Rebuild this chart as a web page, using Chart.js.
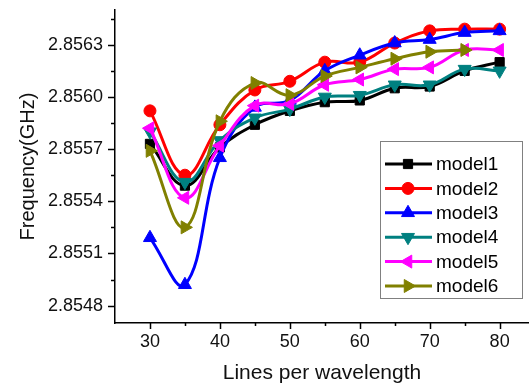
<!DOCTYPE html>
<html>
<head>
<meta charset="utf-8">
<script src="https://cdn.jsdelivr.net/npm/chart.js@4/dist/chart.umd.min.js"></script>
<style>
  body { margin: 0; background: #fff; }
  canvas { display: block; }
</style>
</head>
<body>
<canvas id="lineChart" width="529" height="384"></canvas>
<script>
// values
let linesPerWavelength = [30, 35, 40, 45, 50, 55, 60, 65, 70, 75, 80];

let model1 = [2.85573, 2.85549, 2.85571, 2.85584, 2.85592, 2.85597, 2.85598, 2.85605, 2.85606, 2.85615, 2.85620];
let model2 = [2.85592, 2.85555, 2.85584, 2.85604, 2.85609, 2.85620, 2.85620, 2.85631, 2.85638, 2.85639, 2.85639];
let model3 = [2.85519, 2.85492, 2.85565, 2.85594, 2.85598, 2.85615, 2.85624, 2.85631, 2.85633, 2.85637, 2.85638];
let model4 = [2.85580, 2.85551, 2.85575, 2.85588, 2.85593, 2.85600, 2.85601, 2.85607, 2.85607, 2.85616, 2.85615];
let model5 = [2.85582, 2.85542, 2.85572, 2.85595, 2.85596, 2.85607, 2.85610, 2.85616, 2.85617, 2.85627, 2.85627];
let model6 = [2.85569, 2.85525, 2.85586, 2.85608, 2.85601, 2.85612, 2.85617, 2.85622, 2.85626, 2.85627, null];

let xTickLabels = [30, 40, 50, 60, 70, 80];
let yTickLabels = ['2.8548', '2.8551', '2.8554', '2.8557', '2.8560', '2.8563'];

let fontFamily = "'Liberation Sans', Arial, sans-serif";
Chart.defaults.font.family = fontFamily;
Chart.defaults.color = '#111';

// major ticks from the labels, a minor tick half way between
let xMajor = xTickLabels.slice();
let xAll = [];
xMajor.forEach(v => { xAll.push(v); xAll.push(v + 5); });
let yMajor = yTickLabels.map(Number);
let yAll = [];
yMajor.forEach((v, i) => {
    yAll.push(v);
    let next = i < yMajor.length - 1 ? yMajor[i + 1] : v + (v - yMajor[i - 1]);
    yAll.push(Number(((v + next) / 2).toFixed(5)));
});

function isMajor(list, v) {
    return list.some(m => Math.abs(m - v) < 1e-7);
}

function makeSet(label, values, color, style, rotation, radius, order) {
    return {
        label: label,
        data: linesPerWavelength.map((x, i) => ({ x: x, y: values[i] })),
        borderColor: color,
        backgroundColor: color,
        pointBackgroundColor: color,
        pointBorderColor: color,
        pointStyle: style,
        pointRotation: rotation,
        pointRadius: radius,
        pointBorderWidth: 1,
        borderWidth: 3,
        tension: 0.4,
        fill: false,
        order: order
    };
}

// axis tick marks: long for labelled ticks, short in between
let tickMarks = {
    id: 'tickMarks',
    afterDraw(chart) {
        let ctx = chart.ctx;
        let area = chart.chartArea;
        let xs = chart.scales.x, ys = chart.scales.y;
        ctx.save();
        ctx.strokeStyle = '#000';
        ctx.lineWidth = 1.5;
        ctx.beginPath();
        yAll.forEach(v => {
            if (v > ys.max || v < ys.min) return;
            let py = Math.round(ys.getPixelForValue(v)) + 0.5;
            let len = isMajor(yMajor, v) ? 7 : 4;
            ctx.moveTo(area.left - len, py);
            ctx.lineTo(area.left, py);
        });
        xAll.forEach(v => {
            if (v > xs.max || v < xs.min) return;
            let px = Math.round(xs.getPixelForValue(v)) + 0.5;
            let len = isMajor(xMajor, v) ? 6 : 3;
            ctx.moveTo(px, area.bottom);
            ctx.lineTo(px, area.bottom + len);
        });
        ctx.stroke();
        ctx.restore();
    }
};

// boxed legend inside the plot, lower right
let boxLegend = {
    id: 'boxLegend',
    afterDraw(chart) {
        let ctx = chart.ctx;
        let left = 380, top = 141, w = 142, h = 157;
        ctx.save();
        ctx.strokeStyle = '#808080';
        ctx.lineWidth = 1;
        ctx.strokeRect(left + 0.5, top + 0.5, w, h);
        ctx.font = '19px ' + fontFamily;
        ctx.textBaseline = 'middle';
        ctx.textAlign = 'left';
        chart.data.datasets.forEach((ds, i) => {
            let y = top + 23 + i * 24.4;
            ctx.strokeStyle = ds.borderColor;
            ctx.lineWidth = 3;
            ctx.beginPath();
            ctx.moveTo(385, y);
            ctx.lineTo(432, y);
            ctx.stroke();
            ctx.fillStyle = ds.pointBackgroundColor;
            ctx.strokeStyle = ds.pointBorderColor;
            ctx.lineWidth = 1;
            Chart.helpers.drawPoint(ctx, {
                pointStyle: ds.pointStyle,
                rotation: ds.pointRotation,
                radius: ds.pointRadius,
                borderWidth: 1
            }, 408, y);
            ctx.fillStyle = '#000';
            ctx.fillText(ds.label, 436, y + 1);
        });
        ctx.restore();
    }
};

let ctx = document.getElementById('lineChart').getContext('2d');
let chart = new Chart(ctx, {
    type: 'line',
    data: {
        datasets: [
            makeSet('model1', model1, '#000000', 'rect', 0, 6.5, 5),
            makeSet('model2', model2, '#ff0000', 'circle', 0, 6, 4),
            makeSet('model3', model3, '#0000ff', 'triangle', 0, 7.5, 3),
            makeSet('model4', model4, '#008080', 'triangle', 180, 7.5, 2),
            makeSet('model5', model5, '#ff00ff', 'triangle', 270, 7.5, 1),
            makeSet('model6', model6, '#808000', 'triangle', 90, 7.5, 0)
        ]
    },
    options: {
        responsive: false,
        animation: false,
        layout: { autoPadding: false, padding: { top: 10, right: 0, bottom: 0, left: 0 } },
        plugins: {
            legend: { display: false },
            tooltip: { enabled: false }
        },
        scales: {
            x: {
                type: 'linear',
                min: 25,
                max: 84.2,
                grid: { display: false, drawTicks: false },
                border: { display: true, color: '#000', width: 1.5 },
                afterBuildTicks: s => { s.ticks = xAll.filter(v => v <= s.max).map(v => ({ value: v })); },
                afterFit: s => { s.height = 61; s.paddingLeft = 0; s.paddingRight = 0; },
                ticks: {
                    padding: 8,
                    maxRotation: 0,
                    autoSkip: false,
                    font: { size: 18 },
                    callback: v => isMajor(xMajor, v) ? String(xTickLabels[xMajor.findIndex(m => Math.abs(m - v) < 1e-7)]) : ''
                },
                title: {
                    display: true,
                    text: 'Lines per wavelength',
                    color: '#111',
                    font: { size: 21, lineHeight: 1 },
                    padding: { top: 0, bottom: 0 }
                }
            },
            y: {
                min: 2.8547,
                max: 2.8565,
                grid: { display: false, drawTicks: false },
                border: { display: true, color: '#000', width: 1.5 },
                afterBuildTicks: s => { s.ticks = yAll.filter(v => v <= s.max && v >= s.min).map(v => ({ value: v })); },
                afterFit: s => { s.width = 115; s.paddingTop = 0; s.paddingBottom = 0; },
                ticks: {
                    padding: 12,
                    autoSkip: false,
                    font: { size: 18 },
                    callback: v => {
                        let k = yMajor.findIndex(m => Math.abs(m - v) < 1e-7);
                        return k >= 0 ? yTickLabels[k] : '';
                    }
                },
                title: {
                    display: true,
                    text: 'Frequency(GHz)',
                    color: '#111',
                    font: { size: 20 },
                    padding: { top: 16, bottom: 0 }
                }
            }
        }
    },
    plugins: [tickMarks, boxLegend]
});
</script>
</body>
</html>
